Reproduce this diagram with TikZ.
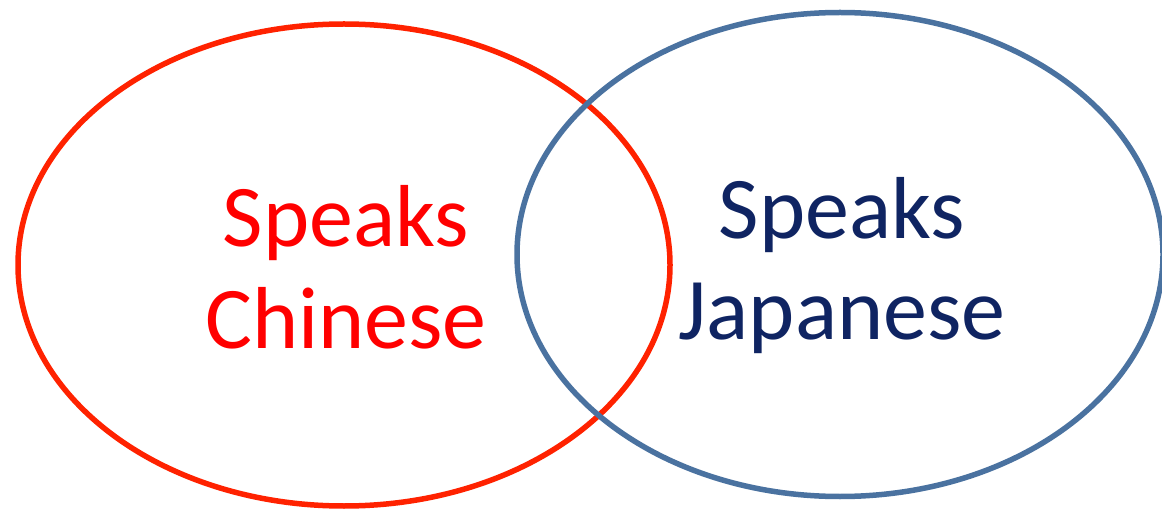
\documentclass[tikz,border=0pt]{standalone}
\usepackage{fontspec}
\setmainfont{Carlito}
\definecolor{redline}{HTML}{FF2200}
\definecolor{redtext}{HTML}{FF0000}
\definecolor{blueline}{HTML}{4A72A0}
\definecolor{bluetext}{HTML}{0F2462}
\tikzset{
  setred/.style={draw=redline, line width=5.5pt},
  setblue/.style={draw=blueline, line width=5.5pt},
  lab/.style={anchor=base, inner sep=0pt, font=\fontsize{88}{101}\selectfont},
}
\begin{document}
\begin{tikzpicture}[x=1pt,y=1pt]
\useasboundingbox (0,0) rectangle (1162,512);
\draw[setred] (344,247) ellipse [x radius=326, y radius=241];
\draw[setblue] (840,257.5) ellipse [x radius=323, y radius=242];
\node[lab, text=redtext] (cn1) at (346,265) {Speaks};
\node[lab, text=redtext] (cn2) at (346,164) {Chinese};
\node[lab, text=bluetext] (jp1) at (842,273) {Speaks};
\node[lab, text=bluetext] (jp2) at (842,172) {Japanese};
\end{tikzpicture}
\end{document}
